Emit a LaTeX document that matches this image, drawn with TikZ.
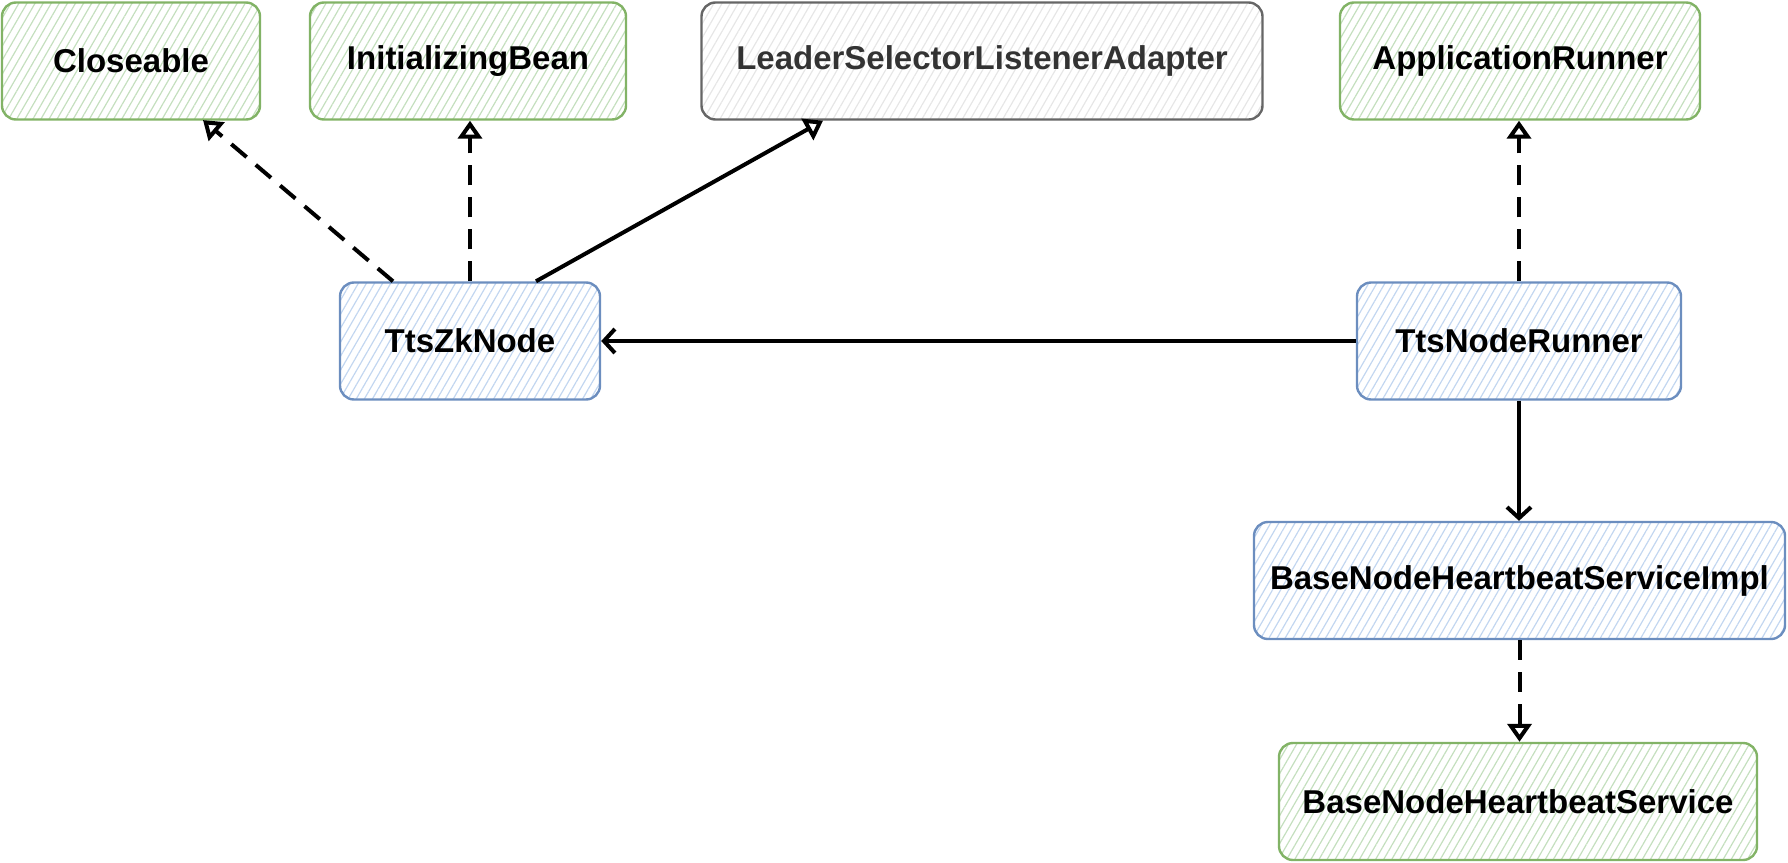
\documentclass[tikz,border=0pt]{standalone}
\usepackage{fontspec}
\setmainfont{Liberation Sans}
\usetikzlibrary{arrows.meta,patterns.meta}

\definecolor{greenline}{HTML}{82B366}
\definecolor{greenhatch}{HTML}{C4DFBE}
\definecolor{blueline}{HTML}{6C8EBF}
\definecolor{bluehatch}{HTML}{C2D6F0}
\definecolor{grayline}{HTML}{666666}
\definecolor{grayhatch}{HTML}{E6E6E6}
\definecolor{graytext}{HTML}{333333}

\begin{document}
\begin{tikzpicture}
    [x=0.5pt,y=-0.5pt,
    ClassBox/.style={draw, rounded corners=7pt, line width=1.2pt, minimum height=58.5pt, inner sep=0pt,
        font=\bfseries\fontsize{16.5}{19}\selectfont},
    Interface/.style={ClassBox, draw=greenline, pattern={Lines[angle=60,distance=3.5pt,line width=0.6pt]}, pattern color=greenhatch},
    Impl/.style={ClassBox, draw=blueline, pattern={Lines[angle=60,distance=3.5pt,line width=0.6pt]}, pattern color=bluehatch},
    BaseClass/.style={ClassBox, draw=grayline, text=graytext, pattern={Lines[angle=60,distance=3.5pt,line width=0.6pt]}, pattern color=grayhatch},
    realize line/.style={line width=2pt, dash pattern=on 10pt off 6pt, -{Triangle[open,length=9pt,width=12pt]}},
    extend line/.style={line width=2pt, -{Triangle[open,length=9pt,width=12pt]}},
    assoc line/.style={line width=2pt, -{Straight Barb[length=5.5pt,width=12pt]}},
    ]
    \useasboundingbox (0,0) rectangle (1788,862);

    %interfaces and classes
    \node[Interface, minimum width=129pt] (Closeable) at (131,61) {Closeable};
    \node[Interface, minimum width=158pt] (InitBean) at (468,61) {InitializingBean};
    \node[BaseClass, minimum width=280.5pt] (LeaderAdapter) at (982,61) {LeaderSelectorListenerAdapter};
    \node[Interface, minimum width=180pt] (AppRunner) at (1520,61) {ApplicationRunner};
    \node[Impl, minimum width=130pt] (ZkNode) at (470,341) {TtsZkNode};
    \node[Impl, minimum width=162pt] (NodeRunner) at (1519,341) {TtsNodeRunner};
    \node[Impl, minimum width=265.5pt] (HeartbeatImpl) at (1519.5,580.5) {BaseNodeHeartbeatServiceImpl};
    \node[Interface, minimum width=239pt] (Heartbeat) at (1518,801.5) {BaseNodeHeartbeatService};

    %TtsZkNode
    \draw[realize line] ([xshift=-38.5pt]ZkNode.north) -- ([xshift=36pt]Closeable.south);
    \draw[realize line] (ZkNode.north) -- (ZkNode.north |- InitBean.south);
    \draw[extend line] ([xshift=33pt]ZkNode.north) -- ([xshift=-79.5pt]LeaderAdapter.south);

    %TtsNodeRunner
    \draw[realize line] (NodeRunner.north) -- (NodeRunner.north |- AppRunner.south);
    \draw[assoc line] (NodeRunner.west) -- (ZkNode.east);
    \draw[assoc line] (NodeRunner.south) -- (NodeRunner.south |- HeartbeatImpl.north);
    \draw[realize line] (HeartbeatImpl.south) -- (HeartbeatImpl.south |- Heartbeat.north);

\end{tikzpicture}
\end{document}
